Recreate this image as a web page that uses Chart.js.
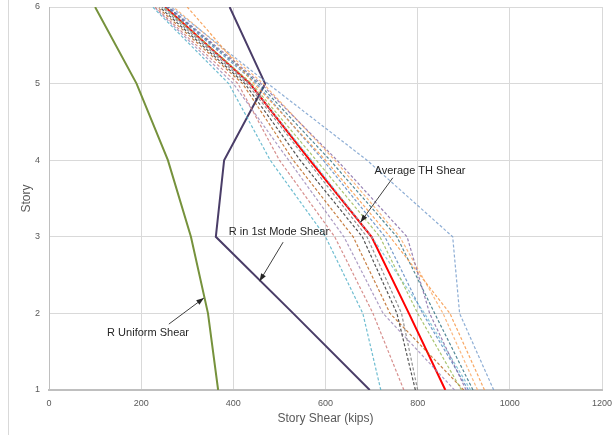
<!DOCTYPE html>
<html>
<head>
<meta charset="utf-8">
<script src="https://cdn.jsdelivr.net/npm/chart.js@4/dist/chart.umd.min.js"></script>
<style>
  body { margin: 0; background: #fff; }
  canvas { display: block; }
</style>
</head>
<body>
<canvas id="shearChart" width="614" height="435"></canvas>
<script>
// stories 1..6
const stories = [1, 2, 3, 4, 5, 6];

// design shears
const rUniform = [367, 345, 308, 258, 190, 100];
const rFirstMode = [696, 530, 362, 380, 469, 392];
const avgTH = [860, 781, 700, 566, 436, 252];

// individual time history records (dashed)
const thRecords = [
  [720, 681, 600, 480, 390, 225],
  [770, 703, 620, 500, 410, 230],
  [795, 755, 680, 545, 425, 240],
  [800, 765, 690, 560, 430, 245],
  [905, 826, 777, 625, 460, 260],
  [945, 870, 740, 600, 445, 300],
  [965, 891, 876, 690, 475, 265],
  [895, 800, 718, 580, 440, 250],
  [910, 811, 729, 595, 450, 255],
  [920, 837, 755, 610, 455, 258],
  [900, 740, 660, 530, 420, 235],
  [930, 855, 761, 620, 465, 270],
  [880, 725, 640, 520, 400, 228],
  [915, 815, 700, 570, 435, 248]
];
const thColors = [
  'rgba(75,172,198,0.8)', 'rgba(205,115,113,0.8)', 'rgba(40,40,40,0.8)',
  'rgba(127,127,127,0.85)', 'rgba(128,100,162,0.8)', 'rgba(247,150,70,0.85)',
  'rgba(114,154,202,0.8)', 'rgba(155,187,89,0.85)', 'rgba(79,129,189,0.8)',
  'rgba(39,106,124,0.8)', 'rgba(182,87,8,0.75)', 'rgba(249,171,107,0.85)',
  'rgba(153,131,181,0.8)', 'rgba(111,189,209,0.8)'
];

const xTicks = [0, 200, 400, 600, 800, 1000, 1200];

// callouts: label position, arrow tail, arrow head (data units)
const callouts = [
  { text: 'Average TH Shear', lx: 805, ly: 3.86, tx: 746, ty: 3.77, hx: 676, hy: 3.19 },
  { text: 'R in 1st Mode Shear', lx: 499, ly: 3.06, tx: 508, ty: 2.93, hx: 457, hy: 2.42 },
  { text: 'R Uniform Shear', lx: 215, ly: 1.74, tx: 260, ty: 1.86, hx: 336, hy: 2.2 }
];

function pts(vals) {
  return vals.map((v, i) => ({ x: v, y: stories[i] }));
}

const datasets = [];
thRecords.forEach((rec, i) => {
  datasets.push({
    label: 'GM' + (i + 1),
    data: pts(rec),
    borderColor: thColors[i],
    borderWidth: 1.2,
    borderDash: [3, 2],
    showLine: true,
    pointRadius: 0,
    fill: false
  });
});
datasets.push({ label: 'R Uniform Shear', data: pts(rUniform), borderColor: '#76923C', borderWidth: 2, showLine: true, pointRadius: 0 });
datasets.push({ label: 'R in 1st Mode Shear', data: pts(rFirstMode), borderColor: '#4A3D68', borderWidth: 2, showLine: true, pointRadius: 0 });
datasets.push({ label: 'Average TH Shear', data: pts(avgTH), borderColor: '#FF0000', borderWidth: 2, showLine: true, pointRadius: 0 });

const ctx = document.getElementById('shearChart').getContext('2d');

const chart = new Chart(ctx, {
  type: 'scatter',
  data: { datasets },
  options: {
    responsive: false,
    animation: false,
    layout: { padding: { top: 7, right: 12, left: 0, bottom: 0 } },
    plugins: { legend: { display: false }, tooltip: { enabled: false } },
    scales: {
      x: {
        min: 0, max: 1200,
        afterBuildTicks: (s) => { s.ticks = xTicks.map(v => ({ value: v })); },
        afterFit: (s) => { s.height = 45; s.paddingLeft = 0; s.paddingRight = 0; },
        grid: { color: '#D9D9D9', drawTicks: false },
        border: { color: '#BFBFBF', width: 2 },
        ticks: { padding: 8, color: '#595959', font: { family: 'Liberation Sans', size: 9 }, callback: (v) => String(v) },
        title: { display: true, text: 'Story Shear (kips)', color: '#595959', padding: { top: 0, bottom: 9 }, font: { family: 'Liberation Sans', size: 12 } }
      },
      y: {
        min: 1, max: 6,
        ticks: { stepSize: 1, padding: 9, color: '#595959', font: { family: 'Liberation Sans', size: 9 } },
        afterFit: (s) => { s.width = 49; s.paddingTop = 0; s.paddingBottom = 0; },
        grid: { color: '#D9D9D9', drawTicks: false },
        border: { color: '#BFBFBF', width: 1 },
        title: { display: true, text: 'Story', color: '#595959', padding: { top: 19, bottom: 0 }, font: { family: 'Liberation Sans', size: 12 } }
      }
    }
  },
  plugins: [{
    id: 'frameAndCallouts',
    beforeDraw: (c) => {
      const g = c.ctx;
      g.save();
      g.strokeStyle = '#D9D9D9';
      g.lineWidth = 1;
      g.beginPath();
      g.moveTo(8.5, 0);
      g.lineTo(8.5, c.height);
      g.stroke();
      g.restore();
    },
    afterDraw: (c) => {
      const g = c.ctx;
      const xs = c.scales.x, ys = c.scales.y;
      g.save();
      g.font = '11px "Liberation Sans"';
      g.fillStyle = '#262626';
      g.textAlign = 'center';
      g.textBaseline = 'middle';
      callouts.forEach(cl => {
        g.fillText(cl.text, xs.getPixelForValue(cl.lx), ys.getPixelForValue(cl.ly));
        const x1 = xs.getPixelForValue(cl.tx), y1 = ys.getPixelForValue(cl.ty);
        const x2 = xs.getPixelForValue(cl.hx), y2 = ys.getPixelForValue(cl.hy);
        g.strokeStyle = '#404040';
        g.lineWidth = 1;
        g.beginPath();
        g.moveTo(x1, y1);
        g.lineTo(x2, y2);
        g.stroke();
        const a = Math.atan2(y2 - y1, x2 - x1);
        g.fillStyle = '#262626';
        g.beginPath();
        g.moveTo(x2, y2);
        g.lineTo(x2 - 8 * Math.cos(a - 0.35), y2 - 8 * Math.sin(a - 0.35));
        g.lineTo(x2 - 8 * Math.cos(a + 0.35), y2 - 8 * Math.sin(a + 0.35));
        g.closePath();
        g.fill();
      });
      g.restore();
    }
  }]
});
</script>
</body>
</html>
